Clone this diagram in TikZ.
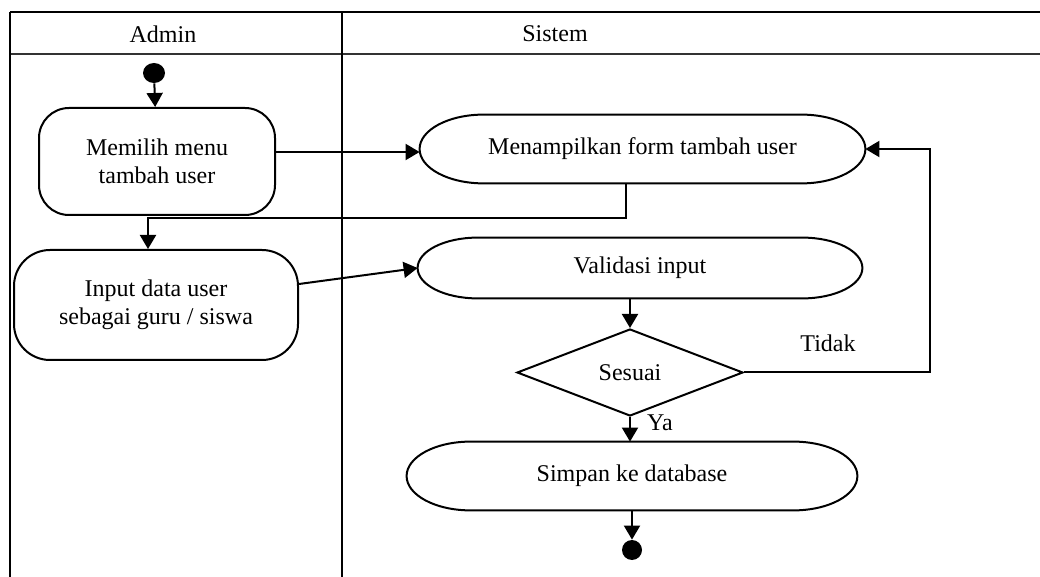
\documentclass[tikz,border=0pt]{standalone}
\usepackage{fontspec}
\setmainfont{Liberation Serif}
\usetikzlibrary{shapes.geometric,arrows.meta,calc}

\tikzset{
  aksi/.style={rectangle,align=center,inner sep=0pt,
    font=\fontsize{12}{14}\selectfont},
  kotak/.style={aksi,draw,line width=1pt,rounded corners=#1},
  keputusan/.style={diamond,draw,line width=1pt,inner sep=0pt,aspect=2.6,
    minimum width=113pt,minimum height=43.5pt,font=\fontsize{12}{14}\selectfont},
  titik/.style={ellipse,fill=black,inner sep=0pt},
  teks/.style={font=\fontsize{12}{14}\selectfont,inner sep=0pt},
  alur/.style={->,line width=1pt}
}
% garis tepi lonjong dengan ujung setengah elips
\newcommand{\lonjong}[2]{%
  \draw[line width=1pt] let \p1=(#1.north), \p2=(#1.south), \n1={(\y1-\y2)/2} in
    ([xshift=#2]#1.north west) -- ([xshift=-#2]#1.north east)
    arc[start angle=90,end angle=-90,x radius=#2,y radius=\n1]
    -- ([xshift=#2]#1.south west)
    arc[start angle=270,end angle=90,x radius=#2,y radius=\n1] -- cycle;}

\begin{document}
\begin{tikzpicture}[x=0.5pt,y=-0.5pt,>={Triangle[length=7pt,width=8pt]}]
				\useasboundingbox (0,0) rectangle (1040,577);
				% swimlane
				\draw[line width=1.3pt] (10,12) -- (1040,12);
				\draw[line width=1pt,black!80] (10,54) -- (1040,54);
				\draw[line width=1.3pt] (10,12) -- (10,577);
				\draw[line width=0.6pt] (342,12) -- (342,577);
				\path
				(163,34) node(admin) [teks] {Admin}
				(555,34) node(sistem) [teks] {Sistem};
				% aktivitas
				\path
				(154,73) node(mulai) [titik,minimum width=11pt,minimum height=10pt] {}
				(157,161.5) node(memilih) [kotak=15pt,minimum width=118pt,minimum height=53.5pt] {Memilih menu\\tambah user}
				(642.5,149) node(tampil) [aksi,minimum width=222.5pt,minimum height=34pt] {Menampilkan form tambah user}
				(156,305) node(input) [kotak=18pt,minimum width=142pt,minimum height=55pt] {Input data user\\sebagai guru / siswa}
				(640,268) node(validasi) [aksi,minimum width=222pt,minimum height=30pt] {Validasi input}
				(630,372.5) node(sesuai) [keputusan] {Sesuai}
				(632,476) node(simpan) [aksi,minimum width=225pt,minimum height=34pt] {Simpan ke database}
				(632,550) node(selesai) [titik,minimum width=10pt,minimum height=10pt] {}
				(828,343) node(tidak) [teks] {Tidak}
				(660,423) node(ya) [teks] {Ya};
				\lonjong{tampil}{32pt}
				\lonjong{validasi}{30pt}
				\lonjong{simpan}{32pt}
				\coordinate (belok) at (148,218);
				\coordinate (balik) at (930,149);
				\draw[alur] (mulai) -- (memilih);
				\draw[alur] ([yshift=-1.5pt]tampil.west -| memilih.east) -- ([yshift=-1.5pt]tampil.west);
				\draw[alur] ([xshift=-8.5pt]tampil.south) |- (belok) -- (belok |- input.north);
				\draw[alur] ([yshift=10.5pt]input.east) -- (validasi.west);
				\draw[alur] (sesuai.north |- validasi.south) -- (sesuai.north);
				\draw[alur] (sesuai.east) -| (balik) -- (tampil.east);
				\draw[alur] (sesuai.south) -- (sesuai.south |- simpan.north);
				\draw[alur] (simpan.south) -- (selesai);
			\end{tikzpicture}
\end{document}
